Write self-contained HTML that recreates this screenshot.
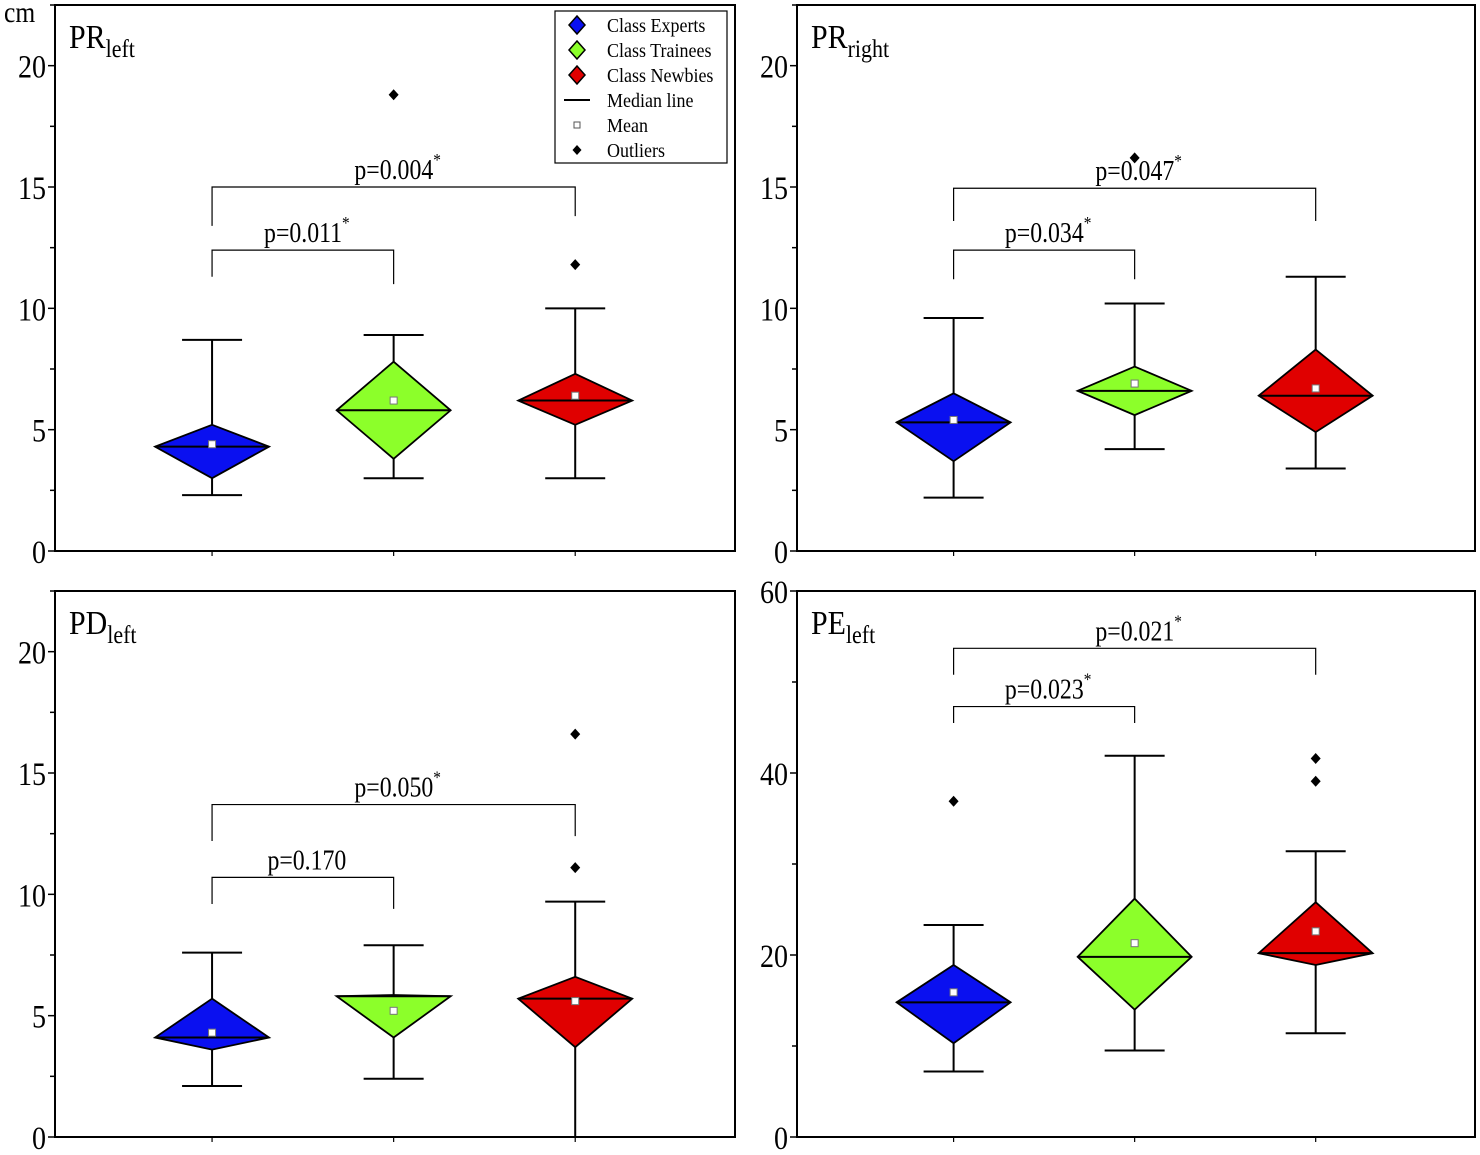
<!DOCTYPE html>
<html><head><meta charset="utf-8"><style>
html,body{margin:0;padding:0;background:#fff;}
svg{display:block;font-family:"Liberation Serif",serif;}
</style></head><body>
<svg id="chart" width="1480" height="1155" viewBox="0 0 1480 1155" xmlns="http://www.w3.org/2000/svg"></svg>
<script>
const categories = ["Experts","Trainees","Newbies"];
const colors = ["#0a10f0","#8cff2a","#e00000"];
// PR left
const prlMin=[2.3,3.0,3.0], prlLow=[3.0,3.8,5.2], prlMed=[4.3,5.8,6.2], prlUp=[5.2,7.8,7.3], prlMax=[8.7,8.9,10.0], prlMean=[4.4,6.2,6.4];
const prlOut=[[],[18.8],[11.8]];
// PR right
const prrMin=[2.2,4.2,3.4], prrLow=[3.7,5.6,4.9], prrMed=[5.3,6.6,6.4], prrUp=[6.5,7.6,8.3], prrMax=[9.6,10.2,11.3], prrMean=[5.4,6.9,6.7];
const prrOut=[[],[16.2],[]];
// PD left
const pdlMin=[2.1,2.4,0.0], pdlLow=[3.6,4.1,3.7], pdlMed=[4.1,5.8,5.7], pdlUp=[5.7,5.85,6.6], pdlMax=[7.6,7.9,9.7], pdlMean=[4.3,5.2,5.6];
const pdlOut=[[],[],[16.6,11.1]];
// PE left
const pelMin=[7.2,9.5,11.4], pelLow=[10.3,14.0,18.9], pelMed=[14.8,19.8,20.2], pelUp=[18.9,26.2,25.8], pelMax=[23.3,41.9,31.4], pelMean=[15.9,21.3,22.6];
const pelOut=[[36.9],[],[41.6,39.1]];
// brackets: [from, to, barY, leftLegY, rightLegY, label, star]
const prlBr=[[1,2,12.4,11.3,11.0,"p=0.011",true],[1,3,15.0,13.4,13.8,"p=0.004",true]];
const prrBr=[[1,2,12.4,11.2,11.2,"p=0.034",true],[1,3,14.95,13.6,13.6,"p=0.047",true]];
const pdlBr=[[1,2,10.7,9.6,9.4,"p=0.170",false],[1,3,13.7,12.2,12.4,"p=0.050",true]];
const pelBr=[[1,2,47.3,45.5,45.5,"p=0.023",true],[1,3,53.7,50.8,50.8,"p=0.021",true]];
const shortTicks=[0,5,10,15,20];
const peTicks=[0,20,40,60];

const NS="http://www.w3.org/2000/svg";
const svg=document.getElementById("chart");
function el(tag,attrs,parent){const e=document.createElementNS(NS,tag);for(const k in attrs)e.setAttribute(k,attrs[k]);(parent||svg).appendChild(e);return e;}

const panels=[
 {name:"pr-left",title:"PR",sub:"left",L:55,R:735,T:5,B:551,ymax:22.5,ticks:shortTicks,minor:2.5,min:prlMin,low:prlLow,med:prlMed,up:prlUp,max:prlMax,mean:prlMean,out:prlOut,br:prlBr,legend:true},
 {name:"pr-right",title:"PR",sub:"right",L:797,R:1475,T:5,B:551,ymax:22.5,ticks:shortTicks,minor:2.5,min:prrMin,low:prrLow,med:prrMed,up:prrUp,max:prrMax,mean:prrMean,out:prrOut,br:prrBr},
 {name:"pd-left",title:"PD",sub:"left",L:55,R:735,T:591,B:1137,ymax:22.5,ticks:shortTicks,minor:2.5,min:pdlMin,low:pdlLow,med:pdlMed,up:pdlUp,max:pdlMax,mean:pdlMean,out:pdlOut,br:pdlBr},
 {name:"pe-left",title:"PE",sub:"left",L:797,R:1475,T:591,B:1137,ymax:60,ticks:peTicks,minor:10,min:pelMin,low:pelLow,med:pelMed,up:pelUp,max:pelMax,mean:pelMean,out:pelOut,br:pelBr}
];

function condensed(t,x,y,sx){t.setAttribute("transform",`translate(${x},${y}) scale(${sx},1)`);}

panels.forEach(p=>{
  const g=el("g",{});
  
  
  const x=c=>p.L+(c-0.135)/(3.88-0.135)*(p.R-p.L);
  const y=v=>p.B-v/p.ymax*(p.B-p.T);
  const hw=57;
  const fr=el("rect",{x:p.L,y:p.T,width:p.R-p.L,height:p.B-p.T,fill:"none",stroke:"#000","stroke-width":2},g);
  
  
  for(let v=0;v<=p.ymax+0.001;v+=p.minor){
    const major=p.ticks.includes(Math.round(v*100)/100);
    el("line",{x1:p.L-(major?7:5),x2:p.L,y1:y(v),y2:y(v),stroke:"#000","stroke-width":1.5},g);
  }
  p.ticks.forEach(t=>{
    const tx=el("text",{x:0,y:0,"text-anchor":"end","font-size":33},g);
    condensed(tx,p.L-9,y(t)+12,0.85);
    tx.textContent=t;
    
    
  });
  [1,2,3].forEach(c=>el("line",{x1:x(c),x2:x(c),y1:p.B,y2:p.B+5,stroke:"#000","stroke-width":1.2},g));
  const tt=el("text",{x:0,y:0,"font-size":34},g);
  condensed(tt,p.L+14,p.T+43,0.88);
  
  
  tt.appendChild(document.createTextNode(p.title));
  const ts=el("tspan",{"font-size":25,dy:9},tt); ts.textContent=p.sub;
  categories.forEach((cat,i)=>{
    const cx=x(i+1);
    const bg=el("g",{},g);
    
    
    el("line",{x1:cx,x2:cx,y1:y(p.up[i]),y2:y(p.max[i]),stroke:"#000","stroke-width":2},bg);
    el("line",{x1:cx,x2:cx,y1:y(p.low[i]),y2:y(p.min[i]),stroke:"#000","stroke-width":2},bg);
    el("line",{x1:cx-30,x2:cx+30,y1:y(p.max[i]),y2:y(p.max[i]),stroke:"#000","stroke-width":2},bg);
    if(p.min[i]>0) el("line",{x1:cx-30,x2:cx+30,y1:y(p.min[i]),y2:y(p.min[i]),stroke:"#000","stroke-width":2},bg);
    const my=y(p.med[i]);
    el("polygon",{points:`${cx},${y(p.up[i])} ${cx+hw},${my} ${cx},${y(p.low[i])} ${cx-hw},${my}`,fill:colors[i],stroke:"#000","stroke-width":1.8},bg);
    el("line",{x1:cx-hw,x2:cx+hw,y1:my,y2:my,stroke:"#000","stroke-width":2},bg);
    el("rect",{x:cx-3.5,y:y(p.mean[i])-3.5,width:7,height:7,fill:"#fff",stroke:"#777","stroke-width":1},bg);
    p.out[i].forEach(o=>{
      const oy=y(o);
      const d=el("polygon",{points:`${cx},${oy-5.5} ${cx+5},${oy} ${cx},${oy+5.5} ${cx-5},${oy}`,fill:"#000"},bg);
      
      
    });
  });
  p.br.forEach(b=>{
    const bg=el("g",{},g);
    
    
    const x1=x(b[0]),x2=x(b[1]);
    el("polyline",{points:`${x1},${y(b[3])} ${x1},${y(b[2])} ${x2},${y(b[2])} ${x2},${y(b[4])}`,fill:"none",stroke:"#000","stroke-width":1.2},bg);
    const t=el("text",{x:0,y:0,"text-anchor":"middle","font-size":28},bg);
    condensed(t,(x1+x2)/2+4,y(b[2])-8,0.85);
    t.appendChild(document.createTextNode(b[5]));
    if(b[6]){const s=el("tspan",{"font-size":18,dy:-13},t);s.textContent="*";}
  });
  if(p.legend){
    const lg=el("g",{},g);
    
    
    el("rect",{x:555,y:11,width:172,height:152,fill:"#fff",stroke:"#000","stroke-width":1.2},lg);
    const labels=["Class Experts","Class Trainees","Class Newbies","Median line","Mean","Outliers"];
    labels.forEach((lab,k)=>{
      const ly=25+k*25, mx=577;
      const e=el("g",{},lg);
      
      
      if(k<3) el("polygon",{points:`${mx},${ly-9} ${mx+8},${ly} ${mx},${ly+9} ${mx-8},${ly}`,fill:colors[k],stroke:"#000","stroke-width":1.5},e);
      else if(k==3) el("line",{x1:mx-13,x2:mx+13,y1:ly,y2:ly,stroke:"#000","stroke-width":2},e);
      else if(k==4) el("rect",{x:mx-3,y:ly-3,width:6,height:6,fill:"#fff",stroke:"#555","stroke-width":1},e);
      else el("polygon",{points:`${mx},${ly-5} ${mx+4.5},${ly} ${mx},${ly+5} ${mx-4.5},${ly}`,fill:"#000"},e);
      const t=el("text",{x:0,y:0,"font-size":20},e);
      condensed(t,607,ly+7,0.9);
      t.textContent=lab;
    });
  }
});
const cm=el("text",{x:0,y:0,"font-size":30});
condensed(cm,4,22,0.85);
cm.textContent="cm";


</script>
</body></html>
